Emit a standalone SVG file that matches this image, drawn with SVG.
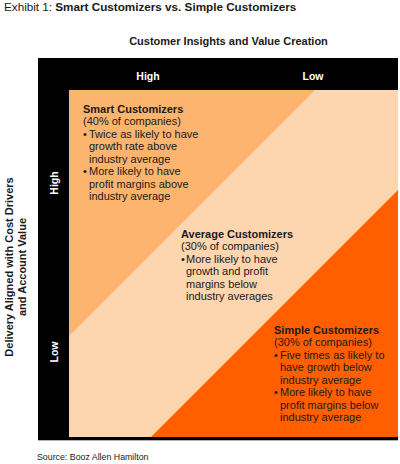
<svg xmlns="http://www.w3.org/2000/svg" width="400" height="464" viewBox="0 0 400 464">
<style>
  text { font-family: "Liberation Sans", Arial, sans-serif; fill: #1a1a1a; }
  .t { font-size: 11px; }
  .b { font-weight: bold; }
  .hdr { font-size: 10.5px; font-weight: bold; fill: #ffffff; }
  .axis { font-size: 11px; font-weight: bold; }
</style>
<rect x="0" y="0" width="400" height="464" fill="#ffffff"/>
<text x="4" y="11" style="font-size:11.7px">Exhibit 1: <tspan class="b">Smart Customizers vs. Simple Customizers</tspan></text>
<text x="228.5" y="45" class="axis" text-anchor="middle">Customer Insights and Value Creation</text>
<g id="axis-left">
  <text class="axis" text-anchor="middle" transform="translate(13,267) rotate(-90)">Delivery Aligned with Cost Drivers</text>
  <text class="axis" text-anchor="middle" transform="translate(26,267) rotate(-90)">and Account Value</text>
</g>
<g id="frame">
  <rect x="38" y="58" width="360" height="382" fill="#000000"/>
  <line x1="38" y1="440.5" x2="398" y2="440.5" stroke="#b0b0b0" stroke-width="1"/>
  <text x="148" y="80" class="hdr" text-anchor="middle">High</text>
  <text x="313" y="80" class="hdr" text-anchor="middle">Low</text>
  <text class="hdr" text-anchor="middle" transform="translate(57.5,183) rotate(-90)">High</text>
  <text class="hdr" text-anchor="middle" transform="translate(57.5,352) rotate(-90)">Low</text>
</g>
<g id="average">
  <rect x="69" y="90" width="329" height="347" fill="#fdd5ae"/>
  <text class="t">
    <tspan x="181" y="237.5" class="b">Average Customizers</tspan>
    <tspan x="181" y="250">(30% of companies)</tspan>
    <tspan x="181" y="262.5">•</tspan><tspan x="186" y="262.5">More likely to have</tspan>
    <tspan x="186" y="275">growth and profit</tspan>
    <tspan x="186" y="287.5">margins below</tspan>
    <tspan x="186" y="300">industry averages</tspan>
  </text>
</g>
<g id="smart">
  <polygon points="69,90 315,90 69,336" fill="#fdb46e"/>
  <text class="t">
    <tspan x="83" y="112.5" class="b">Smart Customizers</tspan>
    <tspan x="83" y="125">(40% of companies)</tspan>
    <tspan x="83" y="137.5">•</tspan><tspan x="89" y="137.5">Twice as likely to have</tspan>
    <tspan x="89" y="150">growth rate above</tspan>
    <tspan x="89" y="162.5">industry average</tspan>
    <tspan x="83" y="175">•</tspan><tspan x="89" y="175">More likely to have</tspan>
    <tspan x="89" y="187.5">profit margins above</tspan>
    <tspan x="89" y="200">industry average</tspan>
  </text>
</g>
<g id="simple">
  <polygon points="398,190 398,437 151,437" fill="#ff5f00"/>
  <text class="t">
    <tspan x="274" y="333.5" class="b">Simple Customizers</tspan>
    <tspan x="274" y="346">(30% of companies)</tspan>
    <tspan x="274" y="358.5">•</tspan><tspan x="280" y="358.5">Five times as likely to</tspan>
    <tspan x="280" y="371">have growth below</tspan>
    <tspan x="280" y="383.5">industry average</tspan>
    <tspan x="274" y="396">•</tspan><tspan x="280" y="396">More likely to have</tspan>
    <tspan x="280" y="408.5">profit margins below</tspan>
    <tspan x="280" y="421">industry average</tspan>
  </text>
</g>
<text x="37" y="460" style="font-size:8.8px">Source: Booz Allen Hamilton</text>
</svg>
